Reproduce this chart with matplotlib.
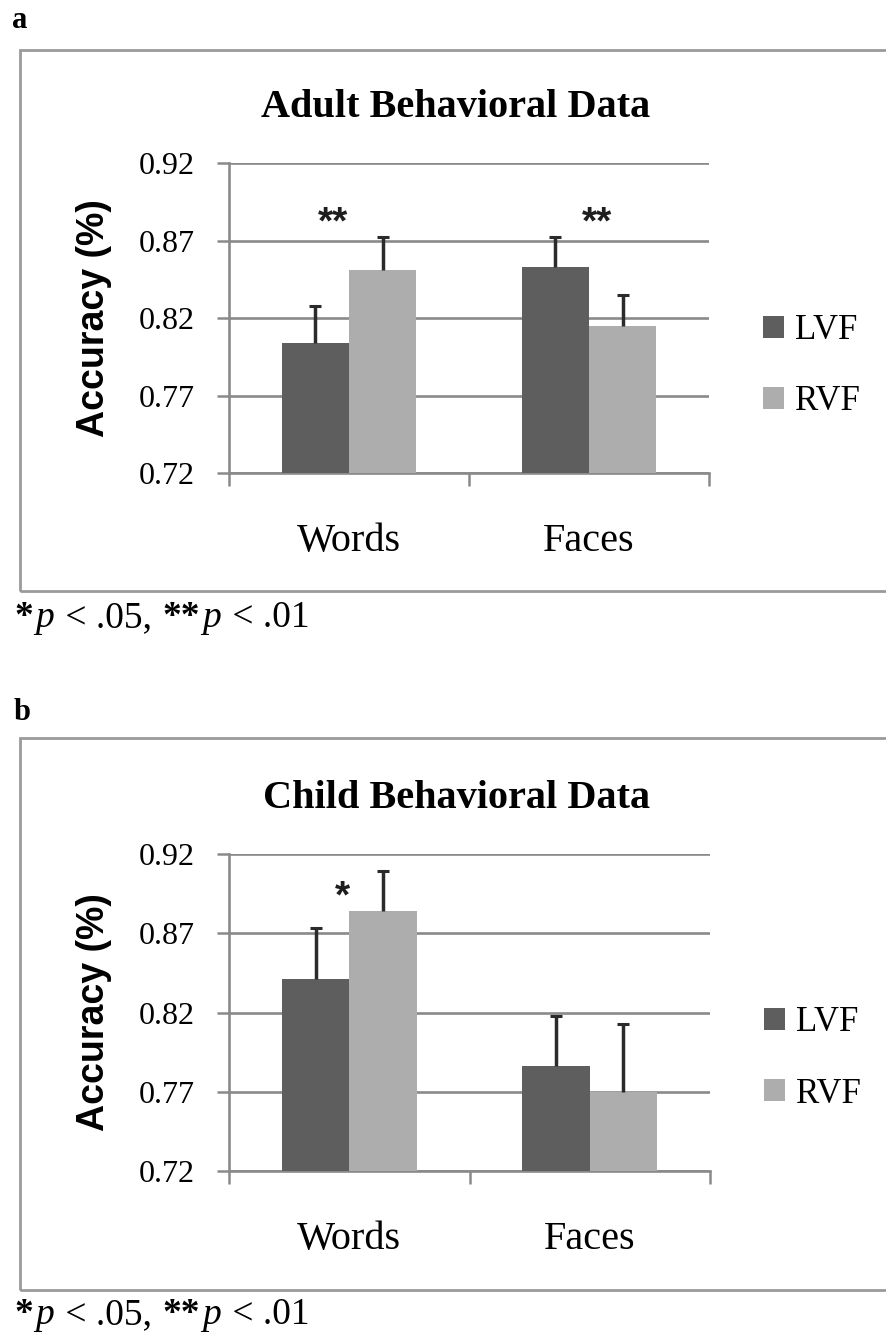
import matplotlib
matplotlib.use("Agg")
import matplotlib.pyplot as plt
from matplotlib.patches import Rectangle
import numpy as np

# data
categories = ["Words", "Faces"]
series = ["LVF", "RVF"]

adult_lvf = [0.804, 0.853]
adult_rvf = [0.851, 0.815]
adult_lvf_err = [0.024, 0.019]
adult_rvf_err = [0.021, 0.020]

child_lvf = [0.841, 0.786]
child_rvf = [0.884, 0.770]
child_lvf_err = [0.032, 0.032]
child_rvf_err = [0.025, 0.043]

# significance marks (text, x, baseline y)
adult_sig = ["**", "**"]
adult_sig_x = [-0.067, 1.033]
adult_sig_y = [0.8745, 0.8745]
child_sig = ["*"]
child_sig_x = [-0.03]
child_sig_y = [0.8865]

yticks = [0.72, 0.77, 0.82, 0.87, 0.92]

dark = "#5e5e5e"
light = "#adadad"
grid_col = "#8a8a8a"
serif = "Liberation Serif"

fig = plt.figure(figsize=(8.86, 13.39), dpi=100)


def panel(rect, title, lvf, rvf, lvf_err, rvf_err, sig, sig_x, sig_y, leg_y):
    ax = fig.add_axes(rect)
    x = np.arange(len(categories))
    w = 0.28
    ax.bar(x - 0.14, lvf, w, color=dark, label=series[0], zorder=3)
    ax.bar(x + 0.14, rvf, w, color=light, label=series[1], zorder=3)
    for xs, vals, errs in [(x - 0.14, lvf, lvf_err), (x + 0.14, rvf, rvf_err)]:
        eb = ax.errorbar(xs, vals, yerr=[np.zeros(len(vals)), errs], fmt="none",
                         ecolor="#2b2b2b", elinewidth=2.5, capsize=4.5, capthick=2.2, zorder=4)
        eb[1][0].set_visible(False)  # no cap at the bar top
    for s, sx, sy in zip(sig, sig_x, sig_y):
        ax.text(sx, sy, s, ha="center", va="baseline", fontsize=28,
                fontweight="bold", family="Liberation Sans", color="#1e1e1e")
    ax.set_ylim(0.72, 0.92)
    ax.set_xlim(-0.5, 1.5)
    ax.set_yticks(yticks)
    ax.set_yticklabels([f"{t:.2f}" for t in yticks], family=serif, fontsize=23)
    ax.set_xticks([-0.5, 0.5, 1.5])
    ax.set_xticklabels([])
    ax.set_xticks(x, minor=True)
    ax.set_xticklabels(categories, minor=True, family=serif, fontsize=29)
    ax.tick_params(axis="x", which="minor", length=0, pad=36)
    ax.tick_params(axis="x", which="major", length=9, width=1.8, color=grid_col)
    ax.tick_params(axis="y", length=9, width=1.8, color=grid_col, pad=16)
    ax.yaxis.grid(True, color=grid_col, linewidth=1.9, zorder=0)
    for side in ["top", "right"]:
        ax.spines[side].set_visible(False)
    for side in ["left", "bottom"]:
        ax.spines[side].set_color(grid_col)
        ax.spines[side].set_linewidth(1.9)
    ax.set_ylabel("Accuracy (%)", family="Liberation Sans", fontweight="bold",
                  fontsize=27, labelpad=19)
    ax.set_title(title, family=serif, fontweight="bold", fontsize=29, x=0.473, pad=33)
    ax.legend(loc="center left", bbox_to_anchor=(1.112, leg_y), frameon=False,
              prop={"family": serif, "size": 25}, handlelength=0.62, handleheight=0.6,
              handletextpad=0.3, labelspacing=1.1, borderpad=0, borderaxespad=0)
    return ax


def footnote(y):
    renderer = fig.canvas.get_renderer()
    pieces = [("*", "normal", "bold"), ("p", "italic", "normal"), (" < .05, ", "normal", "normal"),
              ("**", "normal", "bold"), ("p", "italic", "normal"), (" < .01", "normal", "normal")]
    x = 14
    for s, style, weight in pieces:
        t = fig.text(x / 886, y, s, family=serif, style=style, fontweight=weight,
                     fontsize=27, va="baseline")
        x = t.get_window_extent(renderer).x1 + 2


panel([229 / 886, 1 - 473 / 1339, 480 / 886, 310 / 1339], "Adult Behavioral Data",
      adult_lvf, adult_rvf, adult_lvf_err, adult_rvf_err,
      adult_sig, adult_sig_x, adult_sig_y, 0.345)
panel([229 / 886, 1 - 1171 / 1339, 481 / 886, 317 / 1339], "Child Behavioral Data",
      child_lvf, child_rvf, child_lvf_err, child_rvf_err,
      child_sig, child_sig_x, child_sig_y, 0.355)

# panel frames
frame_col = "#9a9a9a"
fig.patches.append(Rectangle((20 / 886, 1 - 591 / 1339), 1.0, 541 / 1339, transform=fig.transFigure,
                             fill=False, edgecolor=frame_col, linewidth=2))
fig.patches.append(Rectangle((20 / 886, 1 - 1290 / 1339), 1.0, 552 / 1339, transform=fig.transFigure,
                             fill=False, edgecolor=frame_col, linewidth=2))

fig.text(12 / 886, 1 - 21 / 1339, "a", family=serif, fontweight="bold", fontsize=22, va="center")
fig.text(14 / 886, 1 - 712 / 1339, "b", family=serif, fontweight="bold", fontsize=22, va="center")

footnote(1 - 627 / 1339)
footnote(1 - 1324 / 1339)

fig.savefig("out.png", dpi=100)
